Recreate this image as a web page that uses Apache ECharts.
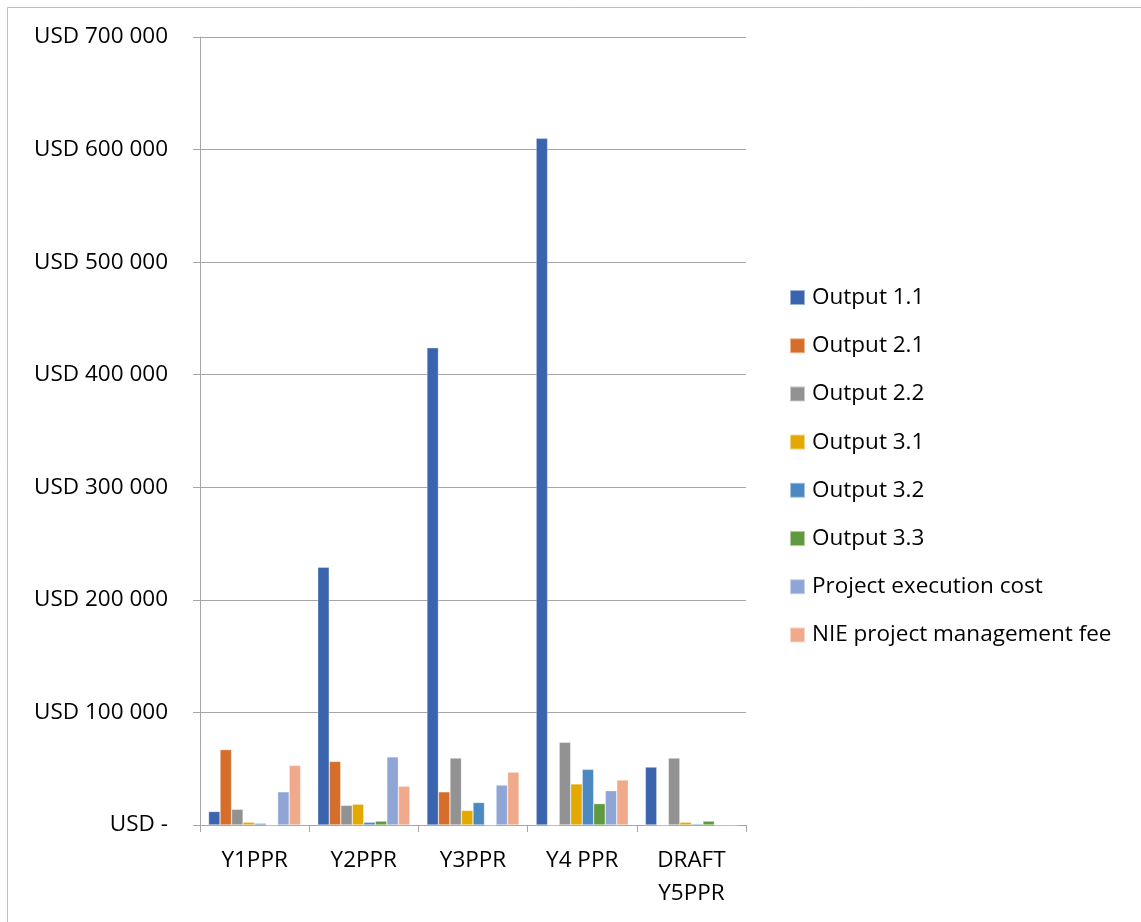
<!DOCTYPE html>
<html>
<head>
<meta charset="utf-8">
<style>
  html, body { margin: 0; padding: 0; background: #ffffff; }
  #chart { width: 1141px; height: 922px; }
</style>
<script src="https://cdn.jsdelivr.net/npm/echarts@6/dist/echarts.min.js"></script>
</head>
<body>
<div id="chart"></div>
<script>
// Reporting periods along the x axis
const categories = ['Y1PPR', 'Y2PPR', 'Y3PPR', 'Y4 PPR', 'DRAFT\nY5PPR'];

// Expenditure per output (USD), one value per reporting period
const output11 = [12000, 229000, 424000, 610000, 51500];
const output21 = [67000, 56500, 29500, 0, 0];
const output22 = [14000, 17500, 59500, 73500, 59500];
const output31 = [2500, 18500, 13000, 36500, 2500];
const output32 = [1500, 2500, 20000, 49500, 1000];
const output33 = [0, 3500, 0, 19000, 3500];
const executionCost = [29500, 60500, 35500, 30500, 0];
const managementFee = [53000, 34500, 47000, 40000, 0];

// Y axis ticks
const yMin = 0;
const yMax = 700000;
const yStep = 100000;

const seriesDefs = [
  { name: 'Output 1.1', data: output11, color: '#3B64AE' },
  { name: 'Output 2.1', data: output21, color: '#D56D2B' },
  { name: 'Output 2.2', data: output22, color: '#929292' },
  { name: 'Output 3.1', data: output31, color: '#E3A900' },
  { name: 'Output 3.2', data: output32, color: '#4C89C0' },
  { name: 'Output 3.3', data: output33, color: '#5F9A3E' },
  { name: 'Project execution cost', data: executionCost, color: '#8FA5D5' },
  { name: 'NIE project management fee', data: managementFee, color: '#F0A98A' }
];

const FONT = 'Open Sans';
const FONT_SIZE = 22.5;
const axisGray = '#A6A6A6';

function usd(v) {
  if (v === 0) return 'USD -';
  const s = String(Math.round(v)).replace(/\B(?=(\d{3})+(?!\d))/g, ' ');
  return 'USD ' + s;
}

const chart = echarts.init(document.getElementById('chart'), null, { renderer: 'canvas' });

chart.setOption({
  animation: false,
  backgroundColor: '#ffffff',
  graphic: [{
    type: 'rect',
    silent: true,
    shape: { x: 7.5, y: 7.5, width: 2000, height: 2000 },
    style: { fill: 'none', stroke: '#BFBFBF', lineWidth: 1 }
  }],
  grid: { left: 200, top: 37, right: 395, bottom: 97, containLabel: false },
  legend: {
    orient: 'vertical',
    left: 789,
    top: 286,
    padding: 0,
    icon: 'rect',
    itemWidth: 15,
    itemHeight: 15,
    itemGap: 25.2,
    textStyle: { fontFamily: FONT, fontSize: FONT_SIZE, color: '#000000', lineHeight: 22, padding: [0, 0, 0, 2] },
    data: seriesDefs.map(s => s.name)
  },
  xAxis: {
    type: 'category',
    data: categories,
    axisLine: { show: true, lineStyle: { color: axisGray, width: 1 } },
    axisTick: { show: true, length: 7, lineStyle: { color: axisGray } },
    axisLabel: { fontFamily: FONT, fontSize: FONT_SIZE, color: '#000000', margin: 19, lineHeight: 33 },
    splitLine: { show: false }
  },
  yAxis: {
    type: 'value',
    min: yMin,
    max: yMax,
    interval: yStep,
    axisLine: { show: true, lineStyle: { color: axisGray, width: 1 } },
    axisTick: { show: true, length: 7, lineStyle: { color: axisGray } },
    axisLabel: { fontFamily: FONT, fontSize: FONT_SIZE, color: '#000000', margin: 32, formatter: usd },
    splitLine: { show: true, lineStyle: { color: axisGray, width: 1 } }
  },
  series: seriesDefs.map(s => ({
    type: 'bar',
    name: s.name,
    data: s.data,
    barGap: '0%',
    barCategoryGap: '15.6%',
    itemStyle: { color: s.color, borderColor: 'rgba(255,255,255,0.5)', borderWidth: 0.6 }
  }))
});
</script>
</body>
</html>
